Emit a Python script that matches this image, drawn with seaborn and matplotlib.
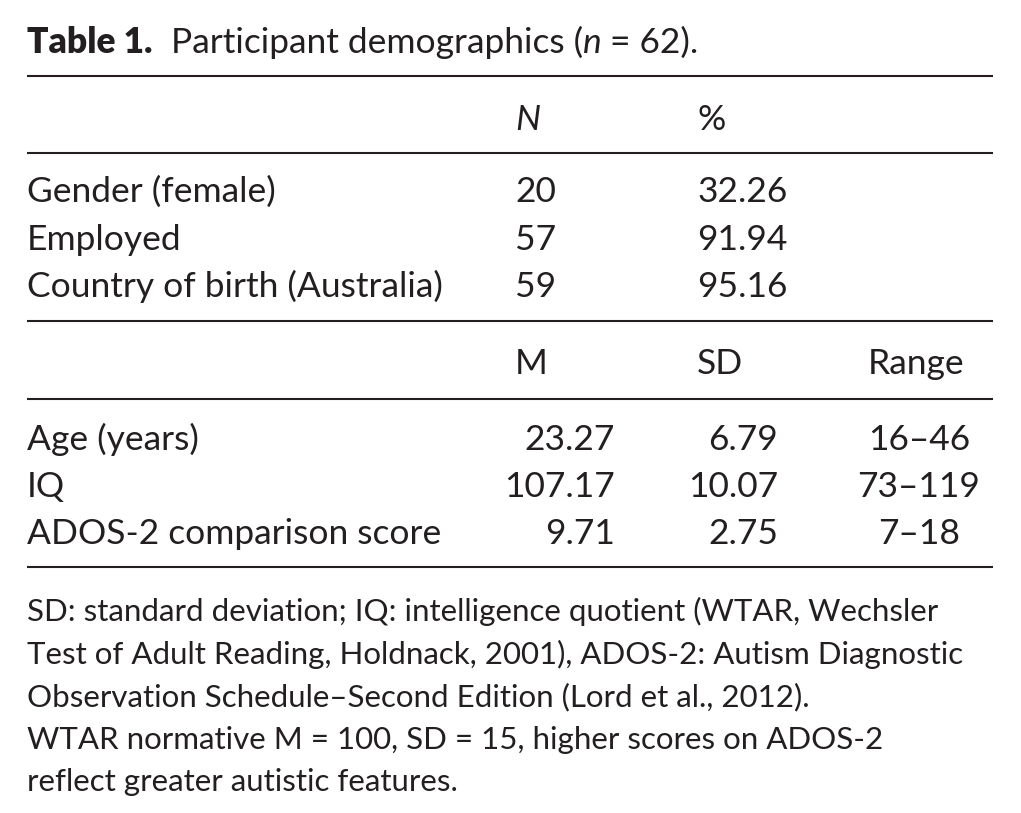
import matplotlib
matplotlib.use("Agg")
import matplotlib.pyplot as plt
import seaborn as sns

# table values
group_labels = ["Gender (female)", "Employed", "Country of birth (Australia)"]
group_n = ["20", "57", "59"]
group_pct = ["32.26", "91.94", "95.16"]

measure_labels = ["Age (years)", "IQ", "ADOS-2 comparison score"]
measure_m = ["23.27", "107.17", "9.71"]
measure_sd = ["6.79", "10.07", "2.75"]
measure_range = ["16–46", "73–119", "7–18"]

notes = [
    "SD: standard deviation; IQ: intelligence quotient (WTAR, Wechsler",
    "Test of Adult Reading, Holdnack, 2001), ADOS-2: Autism Diagnostic",
    "Observation Schedule–Second Edition (Lord et al., 2012).",
    "WTAR normative M = 100, SD = 15, higher scores on ADOS-2",
    "reflect greater autistic features.",
]

sns.set_theme(style="white")
plt.rcParams['font.family'] = ['Lato', 'DejaVu Sans']

ink = "#231f20"
fs = 25.5

fig = plt.figure(figsize=(10.21, 8.13), dpi=100)
ax = fig.add_axes([0, 0, 1, 1])
ax.set_xlim(0, 1021)
ax.set_ylim(813, 0)
ax.axis("off")
renderer = fig.canvas.get_renderer()

# title, pieced together so the n can be italic
x = 27
for part, weight, style in [("Table 1.", "heavy", "normal"),
                            ("  Participant demographics (", "normal", "normal"),
                            ("n", "normal", "italic"),
                            (" = 62).", "normal", "normal")]:
    t = ax.text(x, 53, part, fontsize=fs, fontweight=weight, fontstyle=style,
                color=ink, va="baseline", ha="left")
    x += t.get_window_extent(renderer).width

# rules
ax.hlines([76, 153, 321, 399, 567], 27, 993, color=ink, lw=1.5)

# first block
ax.text(515, 130, "N", fontsize=fs, fontstyle="italic", color=ink, va="baseline")
ax.text(697, 130, "%", fontsize=fs, color=ink, va="baseline")
for i, lab in enumerate(group_labels):
    y = 202 + i * 47.5
    ax.text(27, y, lab, fontsize=fs, color=ink, va="baseline")
    ax.text(515, y, group_n[i], fontsize=fs, color=ink, va="baseline")
    ax.text(697, y, group_pct[i], fontsize=fs, color=ink, va="baseline")

# second block
ax.text(515, 374, "M", fontsize=fs, color=ink, va="baseline")
ax.text(697, 374, "SD", fontsize=fs, color=ink, va="baseline")
ax.text(916, 374, "Range", fontsize=fs, color=ink, va="baseline", ha="center")
for i, lab in enumerate(measure_labels):
    y = 450 + i * 47
    ax.text(27, y, lab, fontsize=fs, color=ink, va="baseline")
    ax.text(615, y, measure_m[i], fontsize=fs, color=ink, va="baseline", ha="right")
    ax.text(778, y, measure_sd[i], fontsize=fs, color=ink, va="baseline", ha="right")
    ax.text(919, y, measure_range[i], fontsize=fs, color=ink, va="baseline", ha="center")

# footnotes
for i, line in enumerate(notes):
    ax.text(27, 621 + i * 42.5, line, fontsize=22.5, color=ink, va="baseline")

fig.savefig("out.png", dpi=100)
